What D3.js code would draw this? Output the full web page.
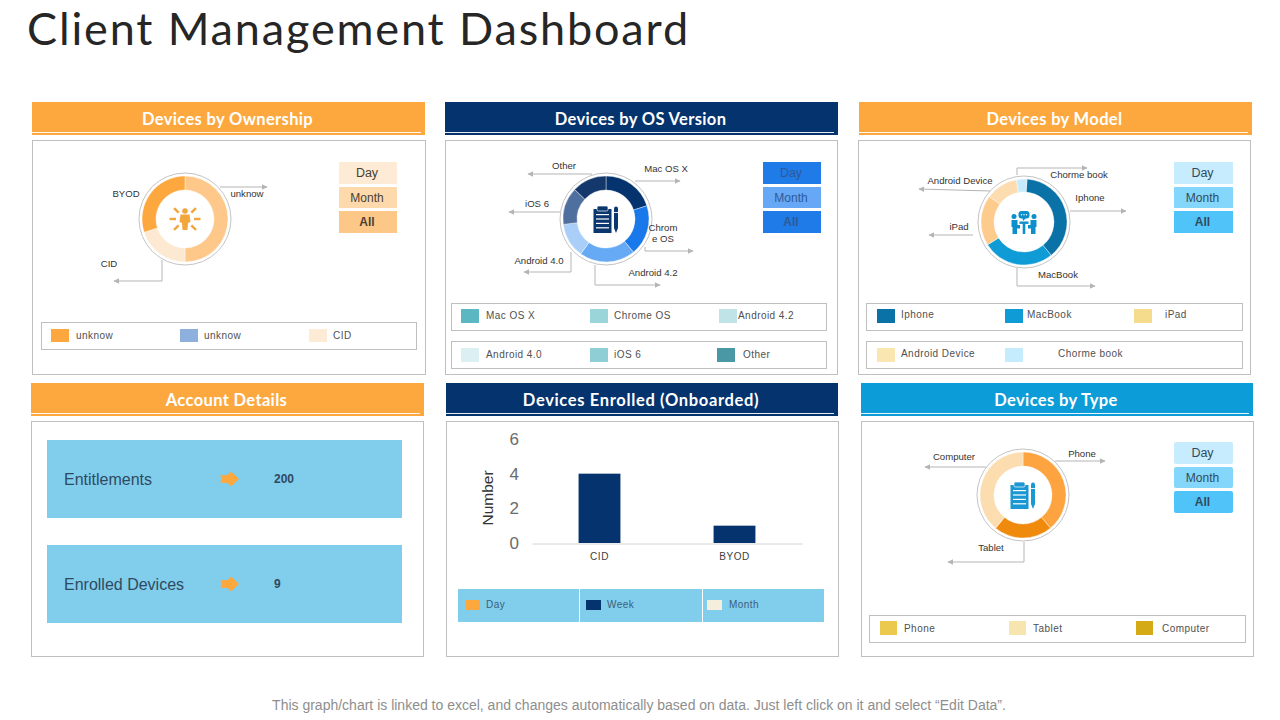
<!DOCTYPE html>
<html><head><meta charset="utf-8">
<script src="https://cdn.jsdelivr.net/npm/d3@7/dist/d3.min.js"></script>
<style>
html,body{margin:0;padding:0;background:#fff;}
svg{display:block;}
text{font-family:"Liberation Sans",Arial,sans-serif;}
</style></head><body>
<svg id="c" width="1280" height="720"></svg>
<script>
// ---------- data ----------
const titleText = "Client Management Dashboard";
const footerText = "This graph/chart is linked to excel, and changes automatically based on data. Just left click on it and select \u201cEdit Data\u201d.";
const periodButtons = ["Day","Month","All"];

const ownershipLabels = ["unknow","CID","BYOD"];
const ownershipValues = [50,20,30];
const ownershipLegend = ["unknow","unknow","CID"];

const osLabels = ["Mac OS X","Chrome OS","Android 4.2","Android 4.0","iOS 6","Other"];
const osValues = [20,19,21,13,14,13];
const osLegend = ["Mac OS X","Chrome OS","Android 4.2","Android 4.0","iOS 6","Other"];

const modelLabels = ["Iphone","MacBook","iPad","Android Device","Chorme book"];
const modelValues = [38,27,19,12,4];
const modelLegend = ["Iphone","MacBook","iPad","Android Device","Chorme book"];

const typeLabels = ["Phone","Tablet","Computer"];
const typeValues = [39,22,39];
const typeLegend = ["Phone","Tablet","Computer"];

const enrolledCategories = ["CID","BYOD"];
const enrolledValues = [4,1];
const enrolledTicks = [0,2,4,6];
const enrolledLegend = ["Day","Week","Month"];

const accountLabels = ["Entitlements","Enrolled Devices"];
const accountValues = [200,9];

// ---------- layout & style ----------
const svg = d3.select("#c");
const ORANGE="#FDA83F", NAVY="#04336E", BLUE="#0C9CD8", GRID="#BFBFBF";
const defs = svg.append("defs");
defs.append("marker").attr("id","arr").attr("viewBox","0 0 10 10").attr("refX",9).attr("refY",5)
  .attr("markerUnits","userSpaceOnUse").attr("markerWidth",6).attr("markerHeight",6).attr("orient","auto")
  .append("path").attr("d","M0,0L10,5L0,10Z").attr("fill","#B5B5B5");

svg.append("text").attr("id","title").attr("x",27).attr("y",45).text(titleText)
  .style("font-family","Lato").style("font-size","45px").style("letter-spacing","1.85px").attr("fill","#262626");
svg.append("text").attr("x",639).attr("y",710).attr("text-anchor","middle").text(footerText)
  .style("font-size","14px").attr("fill","#8E8E8E");

function header(x,y,w,label,color,spacing){
  const g=svg.append("g");
  g.append("rect").attr("x",x).attr("y",y).attr("width",w).attr("height",33).attr("fill",color);
  g.append("rect").attr("x",x).attr("y",y+30).attr("width",w-4).attr("height",1).attr("fill","#fff").attr("opacity",.9);
  g.append("text").attr("x",x+w/2-1).attr("y",y+23).attr("text-anchor","middle").text(label)
    .style("font-family","Lato").style("font-weight",700).style("font-size","16.5px").style("letter-spacing",(spacing||.35)+"px").attr("fill","#fff");
}
function panel(x,y,w,h){
  svg.append("rect").attr("x",x+.5).attr("y",y+.5).attr("width",w).attr("height",h)
    .attr("fill","#fff").attr("stroke",GRID);
}
header(32,102,393,"Devices by Ownership",ORANGE);
header(445,102,393,"Devices by OS Version",NAVY);
header(859,102,393,"Devices by Model",ORANGE);
header(31,383,393,"Account Details",ORANGE);
header(446,383,392,"Devices Enrolled (Onboarded)",NAVY,.65);
header(861,383,392,"Devices by Type",BLUE);
panel(32,140,393,234); panel(445,140,392,234); panel(858,140,392,234);
panel(31,421,392,235); panel(446,421,392,235); panel(861,421,392,235);

function donut(cx,cy,labels,values,colors,rotate,inner){
  const g=svg.append("g").attr("transform",`translate(${cx},${cy})`);
  g.append("circle").attr("r",46).attr("fill","#fff").attr("stroke","#C4C4C4").attr("stroke-width",1);
  const color=d3.scaleOrdinal().domain(labels).range(colors);
  const pie=d3.pie().sort(null).value(d=>d.v).startAngle(rotate*Math.PI/180).endAngle((rotate+360)*Math.PI/180);
  const arc=d3.arc().innerRadius(inner).outerRadius(43);
  g.selectAll("path").data(pie(labels.map((l,i)=>({l,v:values[i]})))).join("path")
    .attr("d",arc).attr("fill",d=>color(d.data.l)).attr("stroke","#fff").attr("stroke-width",.4);
  return g;
}
function callout(pts){
  svg.append("path").attr("d",d3.line()(pts)).attr("fill","none").attr("stroke","#B5B5B5").attr("stroke-width",1)
    .attr("marker-end","url(#arr)");
}
function note(x,y,lines){
  const t=svg.append("text").attr("text-anchor","middle").style("font-size","9.6px").attr("fill","#333");
  [].concat(lines).forEach((s,i)=>t.append("tspan").attr("x",x).attr("y",y+3+i*10.5).text(s));
}
function buttons(x,w,ys,hs,colors,textColor,r){
  periodButtons.forEach((b,i)=>{
    svg.append("rect").attr("x",x).attr("y",ys[i]).attr("width",w).attr("height",hs[i]).attr("rx",r).attr("fill",colors[i]);
    svg.append("text").attr("x",x+w/2-1).attr("y",ys[i]+hs[i]/2+4).attr("text-anchor","middle").text(b)
      .style("font-size",i==0?"12.5px":"12px").style("font-weight",i==2?700:400).attr("fill",textColor);
  });
}
function legendBox(x,y,w,h){
  svg.append("rect").attr("x",x+.5).attr("y",y+.5).attr("width",w).attr("height",h).attr("fill","#fff").attr("stroke",GRID);
}
function legendItem(sx,sy,sw,sh,color,tx,ty,label,fill){
  svg.append("rect").attr("x",sx).attr("y",sy).attr("width",sw).attr("height",sh).attr("fill",color);
  svg.append("text").attr("x",tx).attr("y",ty+3.5).text(label).style("font-size","10px").style("letter-spacing",".45px").attr("fill",fill||"#505050");
}

// --- ownership
donut(185,219,ownershipLabels,ownershipValues,["#FDC88A","#FDE9D2","#FDA83F"],0,29);
callout([[220,187],[267,187]]); note(247,194,ownershipLabels[0]);
note(126,194,ownershipLabels[2]);
callout([[162,260],[162,281],[114,281]]); note(109,264,ownershipLabels[1]);
buttons(339,58,[162,187,211],[22,21,22],["#FDEBD5","#FDD9AC","#FDC788"],"#4A4033",0);
legendBox(41,322,375,27);
[["#FDA83F",51,76],["#8DB1DC",180,204],["#FDEBD5",309,333]].forEach((s,i)=>
  legendItem(s[1],329,18,13,s[0],s[2],335,ownershipLegend[i]));

// --- OS
donut(606,219,osLabels,osValues,["#04336E","#1A79EA","#66A9F5","#A9CEF8","#4F6F9F","#14386B"],0,29);
callout([[635,181],[680,181]]); note(666,169,osLabels[0]);
callout([[645,247],[645,251],[693,251]]); note(663,228,["Chrom","e OS"]);
callout([[595,265],[595,285],[660,285]]); note(653,273,osLabels[2]);
callout([[571,252],[571,272],[524,272]]); note(539,261,osLabels[3]);
callout([[560,212],[509,212]]); note(537,204,osLabels[4]);
callout([[592,174],[528,174]]); note(564,166,osLabels[5]);
buttons(763,58,[162,187,211],[22,21,22],["#1F7BE8","#66A8F5","#1F7BE8"],"#2E5A97",0);
legendBox(451,303,375,27); legendBox(451,341,375,27);
[["#5BB7C1",461,486,309],["#9AD5D9",590,614,309],["#BFE3E6",719,738,309],
 ["#DCEFF2",461,486,348],["#8FCED4",590,614,348],["#4A98A5",717,743,348]].forEach((s,i)=>
  legendItem(s[1],s[3],18,14,s[0],s[2],s[3]+6.5,osLegend[i]));

// --- model
donut(1024,222,modelLabels,modelValues,["#0A72A6","#0E9BD6","#FDCB8C","#FDDCB0","#C5ECFC"],4,30);
callout([[1070,211],[1126,211]]); note(1090,198,modelLabels[0]);
callout([[1017,268],[1017,286],[1095,286]]); note(1058,275,modelLabels[1]);
callout([[973,235],[929,235]]); note(959,227,modelLabels[2]);
callout([[990,191],[919,189]]); note(960,181,modelLabels[3]);
callout([[1017,175],[1017,168],[1087,168]]); note(1079,175,modelLabels[4]);
buttons(1174,59,[162,187,211],[22,21,22],["#C7ECFD","#84D6FA","#50C4F8"],"#2F4B5E",0);
legendBox(866,303,376,27); legendBox(866,341,376,27);
[["#0A72A6",877,901,309],["#0E9BD6",1005,1027,309],["#F5DC8C",1134,1165,309],
 ["#F9E6B0",877,901,348],["#C5ECFC",1005,1058,348]].forEach((s,i)=>
  legendItem(s[1],s[3],18,14,s[0],s[2],s[3]+5.5,modelLegend[i]));

// --- type
donut(1023,495,typeLabels,typeValues,["#FDA33F","#EF8A0D","#FCDDB0"],0,29);
callout([[1055,461],[1105,461]]); note(1082,454,typeLabels[0]);
callout([[1024,542],[1024,562],[948,562]]); note(991,548,typeLabels[1]);
callout([[986,467],[925,467]]); note(954,457,typeLabels[2]);
buttons(1174,59,[442,467,491],[22,21,22],["#C7ECFD","#84D6FA","#50C4F8"],"#2F4B5E",2);
legendBox(869,615,376,27);
[["#EBC94F",880,904],["#F6E5AE",1009,1033],["#D4AB17",1136,1162]].forEach((s,i)=>
  legendItem(s[1],621,17,14,s[0],s[2],628,typeLegend[i]));

// --- icons (drawn around the donut centres)
function personIcon(cx,cy,c){
  const g=svg.append("g").attr("transform",`translate(${cx},${cy})`).attr("fill",c).attr("stroke","none");
  g.append("circle").attr("cy",-8).attr("r",2.8);
  g.append("path").attr("d","M-4.5,-4.5H4.5L5.5,3L3,4L2.5,11H-2.5L-3,4L-5.5,3Z");
  [0,45,135,180,225,315].forEach(a=>
    g.append("rect").attr("x",9).attr("y",-1.2).attr("width",6.5).attr("height",2.4).attr("transform",`rotate(${a})`));
}
function clipboardIcon(cx,cy,c,line){
  const g=svg.append("g").attr("transform",`translate(${cx},${cy})`);
  g.append("rect").attr("x",-12.5).attr("y",-10).attr("width",18).attr("height",24).attr("fill",c);
  g.append("rect").attr("x",-9).attr("y",-13).attr("width",11).attr("height",5).attr("rx",1.5).attr("fill",c).attr("stroke","#fff").attr("stroke-width",.7);
  d3.range(4).forEach(i=>g.append("rect").attr("x",-10).attr("y",-5+i*4.4).attr("width",13).attr("height",1.2).attr("fill",line));
  g.append("path").attr("d","M8,-10.5a2,2 0 0 1 4,0V9L10,14L8,9Z").attr("fill",c);
  g.append("rect").attr("x",8).attr("y",-7).attr("width",4).attr("height",.9).attr("fill","#fff");
}
function meetingIcon(cx,cy,c){
  const g=svg.append("g").attr("transform",`translate(${cx},${cy})`).attr("fill",c);
  g.append("rect").attr("x",-5.5).attr("y",-11.5).attr("width",11).attr("height",7.5).attr("rx",3);
  g.append("path").attr("d","M-1.5,-4.5L2,-4.5L-1,-1.5Z");
  [-2.5,0,2.5].forEach(x=>g.append("circle").attr("cx",x).attr("cy",-7.8).attr("r",.7).attr("fill","#fff"));
  [-1,1].forEach(s=>{
    const h=g.append("g").attr("transform",`scale(${s},1)`);
    h.append("circle").attr("cx",10).attr("cy",-6).attr("r",2.5);
    h.append("path").attr("d","M6.5,-2.5H12.5V4.5L11.5,4.5V11.5H7V6H4V2.5H6.5Z");
  });
  g.append("rect").attr("x",-4.5).attr("y",-1).attr("width",9).attr("height",2.4);
  g.append("rect").attr("x",-1.3).attr("y",1).attr("width",2.6).attr("height",10.5);
}
personIcon(185,219,"#F2A63C");
clipboardIcon(606,219,"#0B376F","#fff");
meetingIcon(1024,222.5,"#0C8FCB");
clipboardIcon(1023,495,"#1B98D3","#fff");

// --- account details
accountLabels.forEach((l,i)=>{
  const y=[440,545][i];
  svg.append("rect").attr("x",47).attr("y",y).attr("width",355).attr("height",78).attr("fill","#81CDEC");
  svg.append("text").attr("x",64).attr("y",y+45).text(l).style("font-size","16px").attr("fill","#2F4A5F");
  svg.append("path").attr("transform",`translate(230,${y+39})`).attr("d","M-10,-3.5L-3,-4L-1,-5L1,-7.5L9,0L1,7.5L-1,5L-3,4L-10,3.5L-8,0Z").attr("fill",ORANGE);
  svg.append("text").attr("x",274).attr("y",y+43).text(accountValues[i]).style("font-size","12px").style("font-weight",700).attr("fill","#2F4A5F");
});

// --- enrolled bar chart
const x=d3.scaleBand().domain(enrolledCategories).range([532,802]).paddingInner(.69).paddingOuter(.345);
const y=d3.scaleLinear().domain([0,6]).range([543,439]);
svg.selectAll("rect.bar").data(enrolledCategories).join("rect").attr("class","bar")
  .attr("x",d=>x(d)).attr("width",x.bandwidth())
  .attr("y",(d,i)=>y(enrolledValues[i])).attr("height",(d,i)=>y(0)-y(enrolledValues[i])).attr("fill",NAVY);
const ay=svg.append("g").attr("transform","translate(519,0)").call(d3.axisLeft(y).tickValues(enrolledTicks).tickFormat(d3.format("d")).tickSize(0).tickPadding(0));
ay.select(".domain").remove();
ay.selectAll("text").style("font-size","17px").attr("fill","#6B6B6B").style("font-family","Liberation Sans");
const ax=svg.append("g").attr("transform","translate(0,543.5)").call(d3.axisBottom(x).tickSize(0).tickPadding(9));
ax.select(".domain").attr("stroke","#D4D4D4");
ax.selectAll("text").style("font-size","10px").style("letter-spacing",".6px").attr("fill","#404040").style("font-family","Liberation Sans");
svg.append("text").attr("transform","translate(493,498) rotate(-90)").attr("text-anchor","middle").text("Number")
  .style("font-size","15.5px").attr("fill","#333");
svg.append("rect").attr("x",458).attr("y",589).attr("width",366).attr("height",33).attr("fill","#81CDEC");
[579,702].forEach(d=>svg.append("rect").attr("x",d).attr("y",589).attr("width",1).attr("height",33).attr("fill","#fff"));
[[ORANGE,466,486,14],[NAVY,586,607,15],["#F5EEDD",707,729,15]].forEach((s,i)=>
  legendItem(s[1],600,s[3],10,s[0],s[2],604.5,enrolledLegend[i],"#3B5F7A"));
</script>
</body></html>
